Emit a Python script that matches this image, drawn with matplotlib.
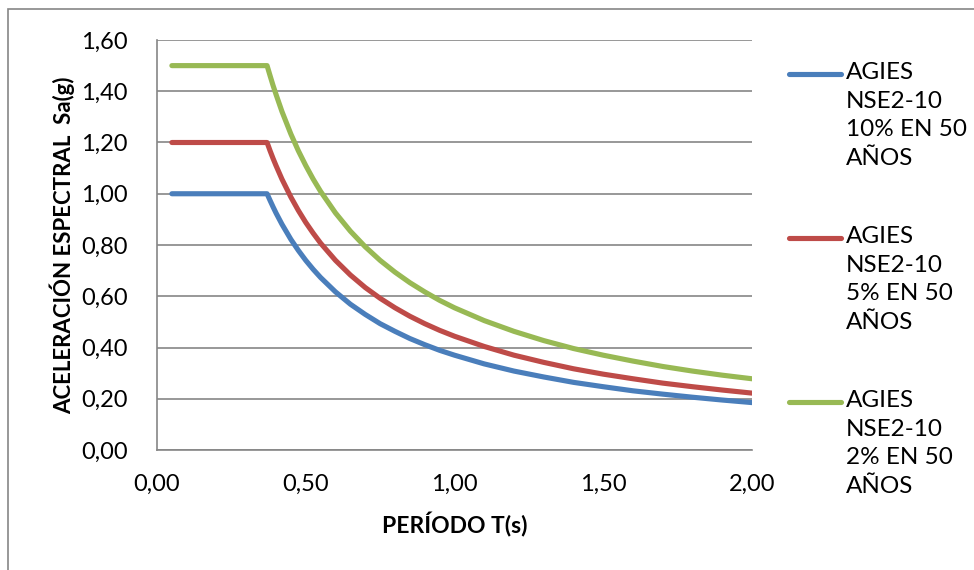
import matplotlib
matplotlib.use("Agg")
import matplotlib.pyplot as plt
from matplotlib.lines import Line2D
from matplotlib.patches import Rectangle
from matplotlib.ticker import FuncFormatter, MultipleLocator

# Periodo T (s) y aceleracion espectral Sa (g) de cada espectro
periodo = [0.05, 0.37, 0.38, 0.39, 0.40, 0.42, 0.45, 0.475, 0.50, 0.525,
           0.55, 0.60, 0.65, 0.70, 0.75, 0.80, 0.85, 0.90, 0.95, 1.00,
           1.10, 1.20, 1.30, 1.40, 1.50, 1.60, 1.70, 1.80, 1.90, 2.00]
sa_10 = [1.000, 1.000, 0.974, 0.949, 0.925, 0.881, 0.822, 0.779, 0.740, 0.705,
         0.673, 0.617, 0.569, 0.529, 0.493, 0.463, 0.435, 0.411, 0.389, 0.370,
         0.336, 0.308, 0.285, 0.264, 0.247, 0.231, 0.218, 0.206, 0.195, 0.185]
sa_5 = [1.200, 1.200, 1.168, 1.138, 1.110, 1.057, 0.987, 0.935, 0.888, 0.846,
        0.807, 0.740, 0.683, 0.634, 0.592, 0.555, 0.522, 0.493, 0.467, 0.444,
        0.404, 0.370, 0.342, 0.317, 0.296, 0.278, 0.261, 0.247, 0.234, 0.222]
sa_2 = [1.500, 1.500, 1.461, 1.423, 1.388, 1.321, 1.233, 1.168, 1.110, 1.057,
        1.009, 0.925, 0.854, 0.793, 0.740, 0.694, 0.653, 0.617, 0.584, 0.555,
        0.505, 0.463, 0.427, 0.396, 0.370, 0.347, 0.326, 0.308, 0.292, 0.278]

series = [sa_10, sa_5, sa_2]
labels = ["AGIES\nNSE2-10\n10% EN 50\nAÑOS",
          "AGIES\nNSE2-10\n5% EN 50\nAÑOS",
          "AGIES\nNSE2-10\n2% EN 50\nAÑOS"]
colors = ["#4A7EBB", "#BE4B48", "#98B954"]

plt.rcParams["font.family"] = ["Lato", "DejaVu Sans"]

W, H = 974, 570
fig = plt.figure(figsize=(W / 100, H / 100), dpi=100)
ax = fig.add_axes([157 / W, 1 - 450 / H, (752 - 157) / W, (450 - 40) / H])

for y, c in zip(series, colors):
    ax.plot(periodo, y, color=c, lw=3.7, solid_capstyle="round",
            solid_joinstyle="round", zorder=3)

ax.set_xlim(0, 2.0)
ax.set_ylim(0, 1.6)
ax.xaxis.set_major_locator(MultipleLocator(0.5))
ax.yaxis.set_major_locator(MultipleLocator(0.2))
coma = FuncFormatter(lambda v, p: f"{v:.2f}".replace(".", ","))
ax.xaxis.set_major_formatter(coma)
ax.yaxis.set_major_formatter(coma)
ax.tick_params(axis="both", length=0, labelsize=17, colors="black")
ax.tick_params(axis="y", pad=21)
ax.tick_params(axis="x", pad=17)
ax.grid(axis="y", color="#868686", lw=1.2)
ax.set_axisbelow(True)
for s in ["top", "right"]:
    ax.spines[s].set_visible(False)
for s in ["left", "bottom"]:
    ax.spines[s].set_color("#868686")
    ax.spines[s].set_linewidth(1.2)

ax.set_xlabel("PERÍODO T(s)", fontsize=16.5, fontweight="bold", va="center")
ax.set_ylabel("ACELERACIÓN ESPECTRAL  Sa(g)", fontsize=16,
              fontweight="bold", va="center")
ax.xaxis.set_label_coords(0.5, (450 - 525) / 410)
ax.yaxis.set_label_coords((62 - 157) / 595, 0.5)

# leyenda a la derecha, linea alineada con la primera fila del texto
for i, (lab, c) in enumerate(zip(labels, colors)):
    ytop = 74 + i * 164
    fig.add_artist(Line2D([789 / W, 841 / W], [1 - ytop / H, 1 - ytop / H],
                          color=c, lw=3.7, solid_capstyle="round"))
    fig.text(846 / W, 1 - (ytop - 12) / H, lab, fontsize=17.5, va="top",
             ha="left", linespacing=1.45)

# marco del grafico
fig.add_artist(Rectangle((8 / W, -0.05), 1.2, 1.05 - 9 / H,
                         transform=fig.transFigure, fill=False,
                         edgecolor="#868686", lw=1.2))

fig.savefig("out.png", dpi=100)
